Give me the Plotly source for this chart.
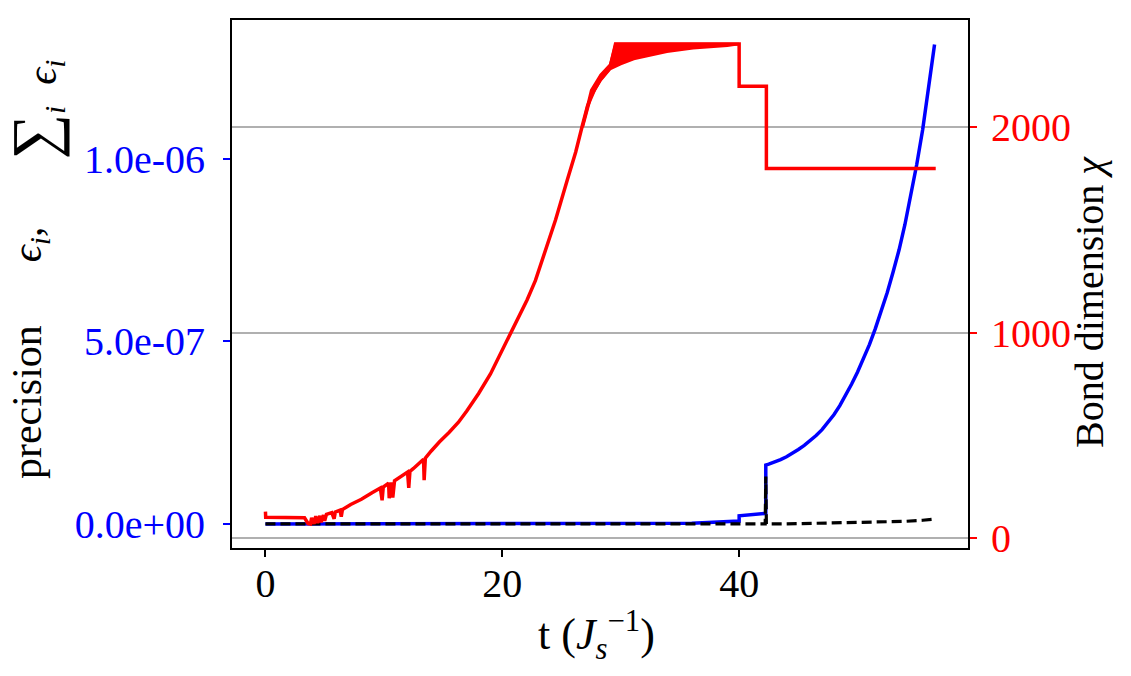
import plotly.graph_objects as go

# ---------------- data ----------------
# Bond dimension chi (right axis, red)
red_t = [0.0, 0.02, 3.3, 3.6, 3.8, 3.9, 4.1, 4.25, 4.4, 4.6, 4.7, 4.9, 5.0, 5.15, 5.6, 5.8, 5.9,
         6.3, 6.4, 6.5, 7.2, 8.1, 9.0, 9.7, 9.85, 9.95, 10.4, 10.45, 10.6, 10.75, 10.9, 11.5,
         12.0, 12.1, 12.2, 12.5, 13.35, 13.4, 13.5, 14.0, 14.7, 15.5, 16.3, 17.0, 18.0, 19.0,
         19.8, 20.7, 21.4, 22.1, 22.8, 23.4, 24.5, 25.5, 26.2, 26.75, 27.2, 27.8, 28.3, 29.1,
         29.56, 40.0, 40.0, 42.3, 42.3, 56.6]
red_chi = [130, 103, 100, 72, 70, 100, 70, 108, 75, 110, 78, 113, 85, 117, 125, 95, 128,
           137, 105, 140, 165, 190, 222, 245, 185, 250, 268, 195, 272, 198, 280, 303,
           322, 245, 326, 340, 385, 283, 390, 425, 470, 515, 565, 620, 705, 800,
           895, 1000, 1080, 1161, 1255, 1356, 1550, 1746, 1880, 2006, 2105, 2185, 2234, 2290,
           2405, 2405, 2200, 2200, 1800, 1800]

# oscillation band of chi (upper and lower envelopes)
band_up_t = [26.8, 27.5, 28.3, 29.1, 29.56, 40.0]
band_up_chi = [2015, 2180, 2255, 2305, 2405, 2405]
band_lo_t = [26.8, 27.5, 28.3, 29.1, 30.0, 31.1, 32.5, 33.9, 36.1, 39.0, 40.0]
band_lo_chi = [2000, 2150, 2228, 2283, 2307, 2332, 2351, 2367, 2384, 2397, 2405]

# cumulative precision sum_i eps_i (left axis, blue)
blue_t = [0, 10, 20, 30, 36, 40.0, 40.0, 42.25, 42.25, 42.5, 43.0, 43.5, 44.0, 44.5, 45.0,
          45.5, 46.0, 46.5, 47.0, 47.5, 48.0, 48.5, 49.0, 49.5, 50.0, 50.5, 51.0, 51.5, 52.0,
          52.5, 53.0, 53.5, 54.0, 54.5, 55.0, 55.5, 56.0, 56.5]
blue_v = [0, 0, 0.5e-9, 1e-9, 2e-9, 8e-9, 2.2e-8, 2.9e-8, 1.61e-7, 1.635e-7, 1.69e-7, 1.76e-7,
          1.84e-7, 1.93e-7, 2.04e-7, 2.15e-7, 2.28e-7, 2.42e-7, 2.58e-7, 2.77e-7, 2.99e-7,
          3.24e-7, 3.52e-7, 3.83e-7, 4.16e-7, 4.52e-7, 4.91e-7, 5.35e-7, 5.82e-7, 6.33e-7,
          6.9e-7, 7.5e-7, 8.2e-7, 9.0e-7, 9.85e-7, 1.08e-6, 1.19e-6, 1.313e-6]

# per-step precision eps_i (left axis, black dashed)
black_t = [0, 42.2, 42.25, 42.3, 44, 46, 48, 50, 52, 54, 55.5, 56.5]
black_v = [0, 0, 1.3e-7, 0, 0, 1e-9, 2e-9, 3e-9, 4.5e-9, 7e-9, 1e-8, 1.3e-8]

x_ticks = [0, 20, 40]
y1_ticks = [0, 5e-7, 1e-6]
y1_ticktext = ["0.0e+00", "5.0e-07", "1.0e-06"]
y2_ticks = [0, 1000, 2000]

# ---------------- figure ----------------
FONT = "Liberation Serif, DejaVu Serif, serif"
fig = go.Figure()

fig.add_trace(go.Scatter(x=blue_t, y=blue_v, mode="lines",
                         line=dict(color="#0000ff", width=3.5), yaxis="y", showlegend=False))
fig.add_trace(go.Scatter(x=black_t, y=black_v, mode="lines",
                         line=dict(color="black", width=3.2, dash="10px,5px"), yaxis="y",
                         showlegend=False))

poly_t = band_up_t + band_lo_t[::-1]
poly_chi = band_up_chi + band_lo_chi[::-1]
fig.add_trace(go.Scatter(x=poly_t, y=poly_chi, mode="lines", fill="toself",
                         fillcolor="#ff0000", line=dict(color="#ff0000", width=2.5),
                         yaxis="y2", showlegend=False))
fig.add_trace(go.Scatter(x=red_t, y=red_chi, mode="lines",
                         line=dict(color="#ff0000", width=3.5), yaxis="y2", showlegend=False))

fig.update_layout(
    width=1131, height=676,
    margin=dict(l=232, r=163, t=20, b=128),
    paper_bgcolor="white", plot_bgcolor="white",
    font=dict(family=FONT, size=40, color="black"),
    xaxis=dict(range=[-2.825, 59.325], tickvals=x_ticks, showgrid=False, zeroline=False,
               showline=True, linecolor="black", linewidth=2, mirror=True,
               ticks="outside", ticklen=7, tickwidth=1.5, tickcolor="black",
               ticklabelstandoff=-8,
               tickfont=dict(size=40, color="black")),
    yaxis=dict(range=[-6.6e-8, 1.38e-6], tickvals=y1_ticks, ticktext=y1_ticktext,
               showgrid=False, zeroline=False, showline=True, linecolor="black", linewidth=2,
               ticks="outside", ticklen=7, tickwidth=1.5, tickcolor="#0000ff",
               ticklabelstandoff=10,
               tickfont=dict(size=40, color="#0000ff")),
    yaxis2=dict(range=[-47, 2522], tickvals=y2_ticks, overlaying="y", side="right",
                showgrid=True, gridcolor="#b0b0b0", gridwidth=1.5, zeroline=False,
                showline=True, linecolor="black", linewidth=2,
                ticks="outside", ticklen=7, tickwidth=1.5, tickcolor="#ff0000",
                ticklabelstandoff=6,
                tickfont=dict(size=40, color="#ff0000")),
)

# left axis title, in two pieces: "precision  eps_i," and "sum_i eps_i"
fig.add_annotation(
    xref="paper", yref="paper", x=-0.2745, y=0.371, xanchor="center", yanchor="middle",
    textangle=-90, showarrow=False, font=dict(family=FONT, size=42, color="black"),
    text="precision\u2003\u2002<i>\u03f5<sub>i</sub></i>,")
fig.add_annotation(
    xref="paper", yref="paper", x=-0.268, y=0.83, xanchor="center", yanchor="middle",
    textangle=-90, showarrow=False, font=dict(family=FONT, size=42, color="black"),
    text="<span style='font-size:64px'>\u2211</span><i><sub>i</sub>\u2002\u03f5<sub>i</sub></i>")
fig.add_annotation(
    xref="paper", yref="paper", x=1.1658, y=0.466, xanchor="center", yanchor="middle",
    textangle=-90, showarrow=False, font=dict(family=FONT, size=40, color="black"),
    text="Bond dimension <i>\u03c7</i>")
fig.add_annotation(
    xref="paper", yref="paper", x=0.4946, y=-0.165, xanchor="center", yanchor="middle",
    showarrow=False, font=dict(family=FONT, size=44, color="black"),
    text="t (<i>J</i><sub><i>s</i></sub><sup>\u22121</sup>)")

fig.write_html("out.html")
